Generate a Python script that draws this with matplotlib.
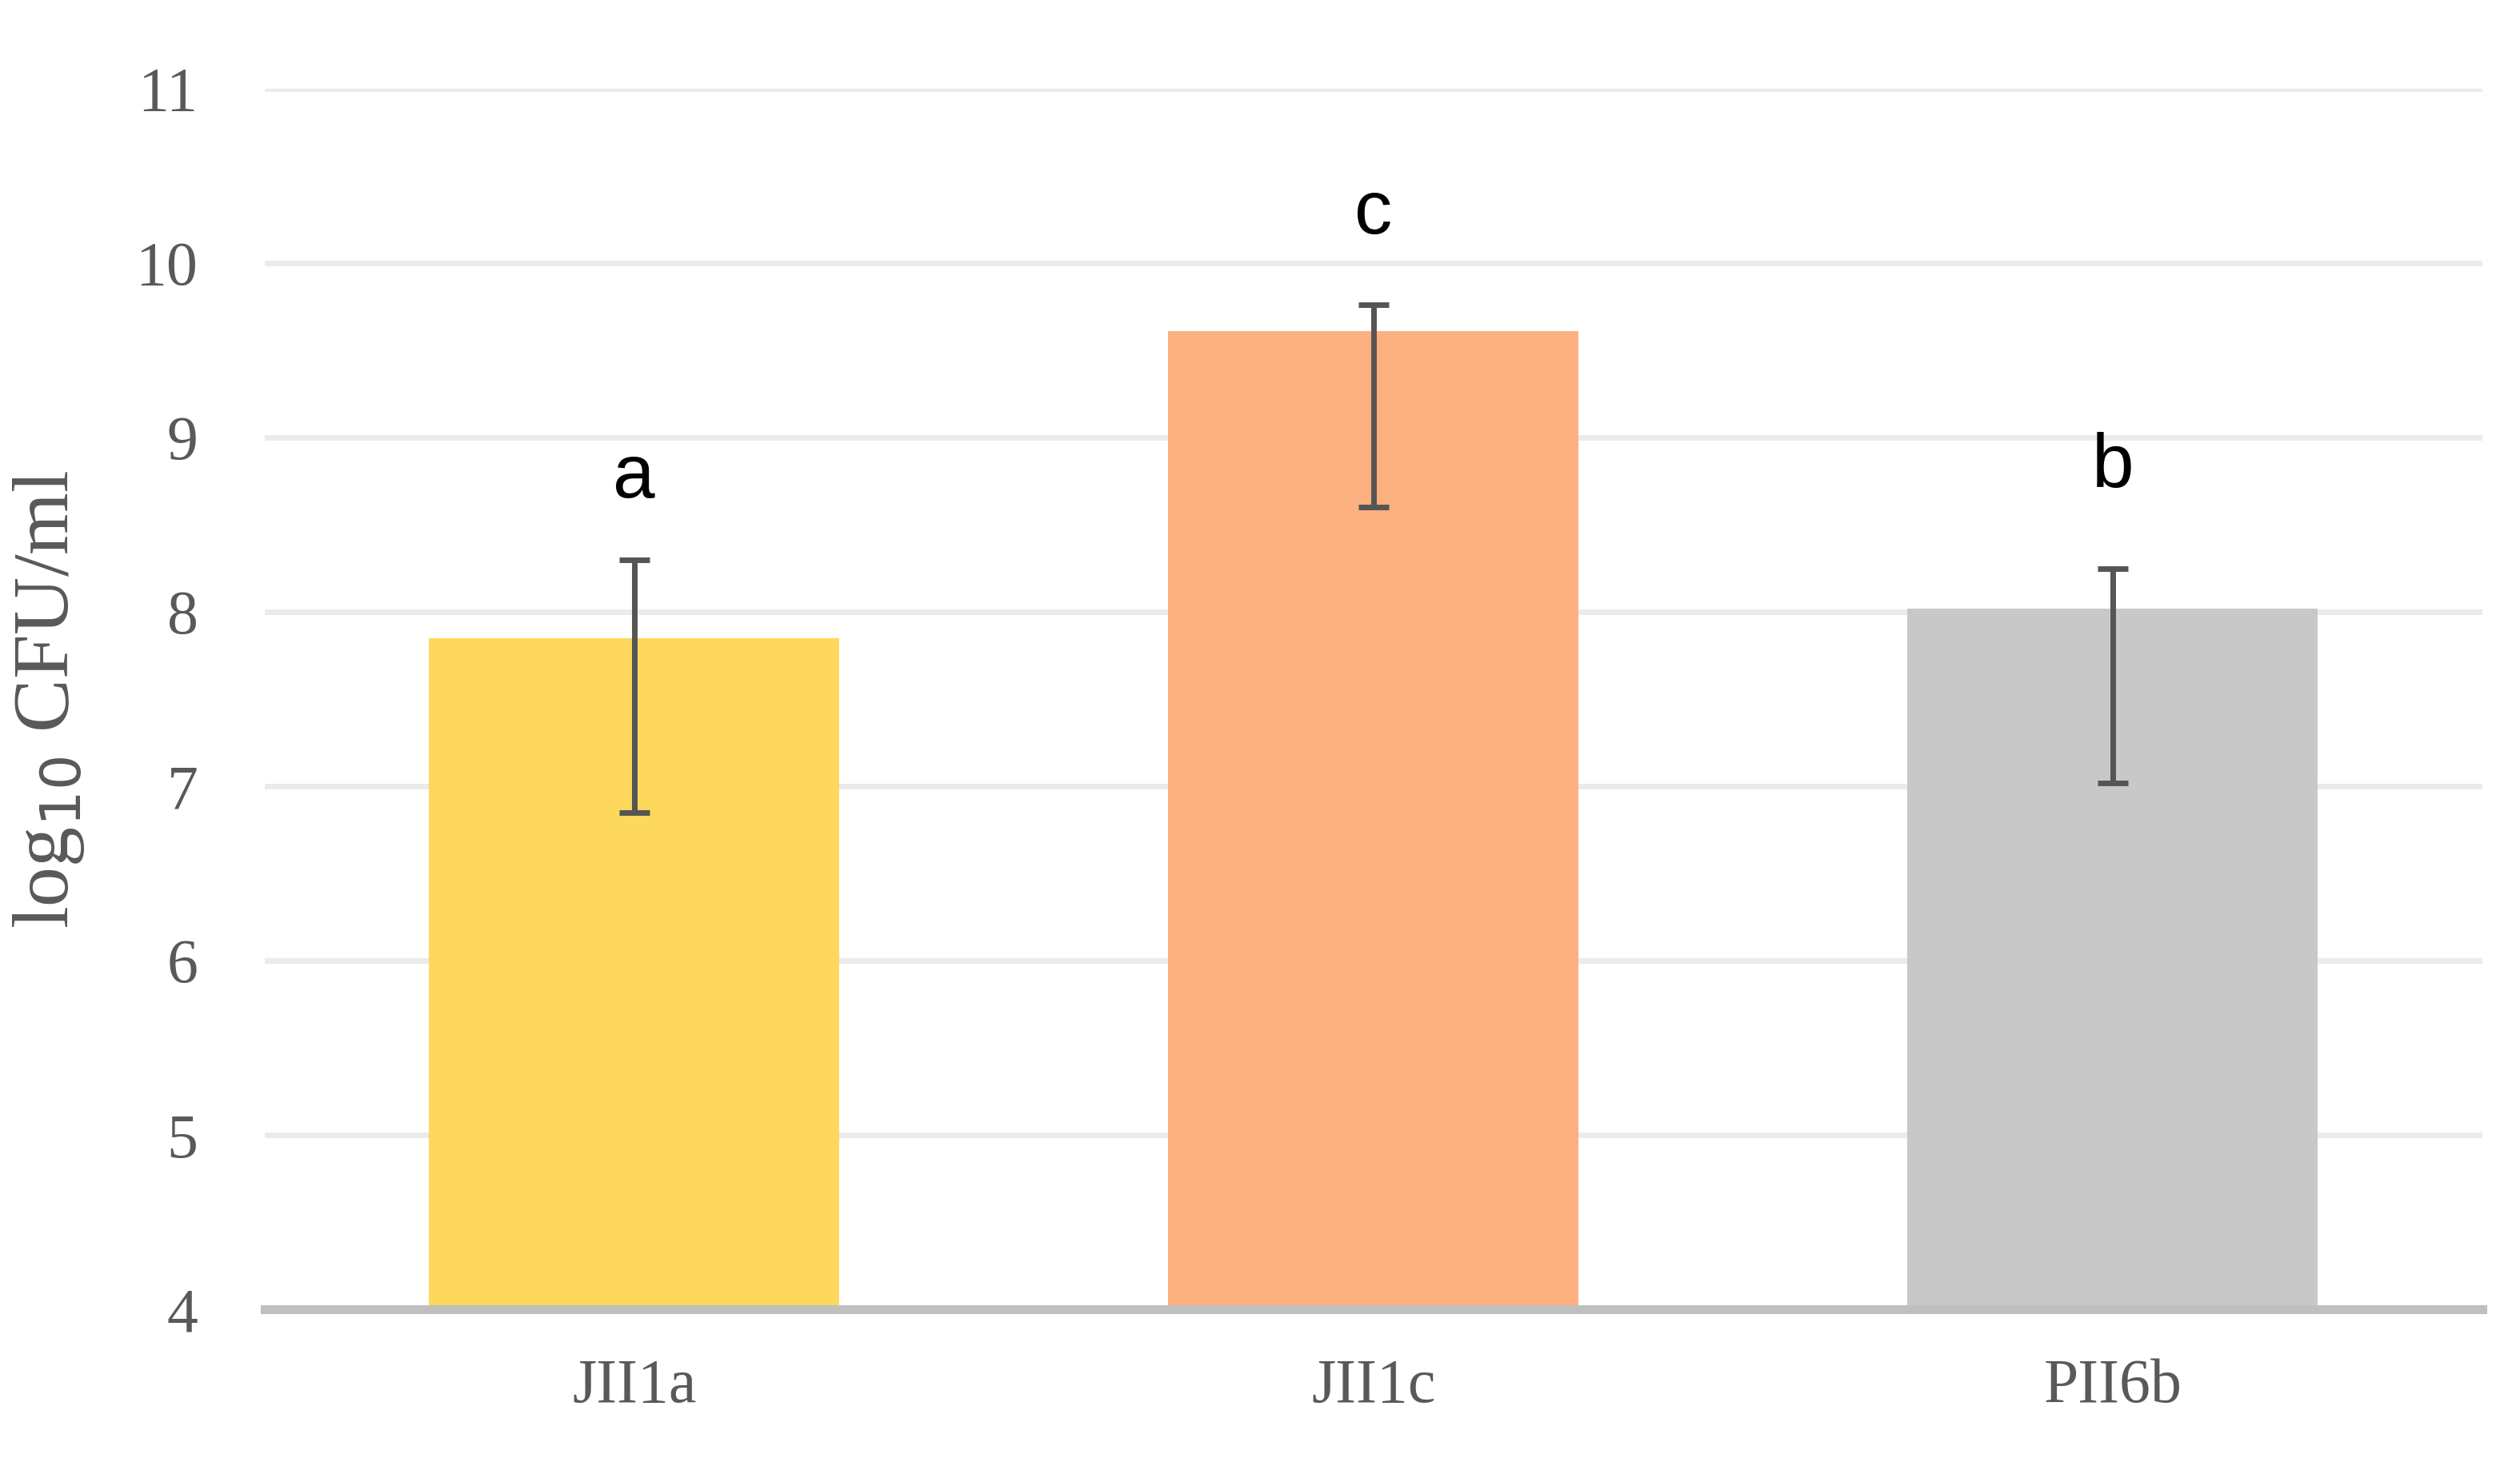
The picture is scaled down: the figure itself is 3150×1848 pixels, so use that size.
import matplotlib.pyplot as plt
import numpy as np

strains = ["JII1a", "JII1c", "PII6b"]
means = [7.85, 9.61, 8.02]
err_low = [1.00, 1.01, 1.00]
err_high = [0.45, 0.15, 0.23]
letters = ["a", "c", "b"]
letter_y = [8.77, 10.28, 8.83]
colors = ["#FDD85C", "#FDB07F", "#C8C8C8"]

fig = plt.figure(figsize=(15.75, 9.24), dpi=200)
ax = fig.add_axes([0.105, 0.114, 0.88, 0.826])

x = np.arange(len(strains))
ax.bar(x, [m - 4 for m in means], bottom=4, width=0.555, color=colors, zorder=2)
ax.errorbar(x, means, yerr=[err_low, err_high], fmt="none", ecolor="#555555",
            elinewidth=2.5, capsize=7, capthick=2.5, zorder=3)
for xi, lab, ly in zip(x, letters, letter_y):
    ax.text(xi, ly, lab, ha="center", va="center", fontsize=34, family="Liberation Sans")

ax.set_ylim(4, 11)
ax.set_xlim(-0.5, 2.5)
ax.set_yticks(range(4, 12))
ax.yaxis.grid(True, color="#EBEBEB", linewidth=2.5, zorder=0)
ax.set_axisbelow(True)
for s in ["top", "right", "left"]:
    ax.spines[s].set_visible(False)
ax.spines["bottom"].set_color("#BFBFBF")
ax.spines["bottom"].set_linewidth(4)
ax.spines["bottom"].set_zorder(4)
ax.tick_params(length=0, labelsize=28, labelcolor="#595959", pad=30)
ax.set_xticks(x)
ax.set_xticklabels(strains)
for t in ax.get_xticklabels() + ax.get_yticklabels():
    t.set_family("Liberation Serif")
ax.tick_params(axis="x", pad=22)
ax.set_ylabel("log$_{10}$ CFU/ml", fontsize=36, color="#595959", family="Liberation Serif", labelpad=22)

fig.savefig("out.png")
